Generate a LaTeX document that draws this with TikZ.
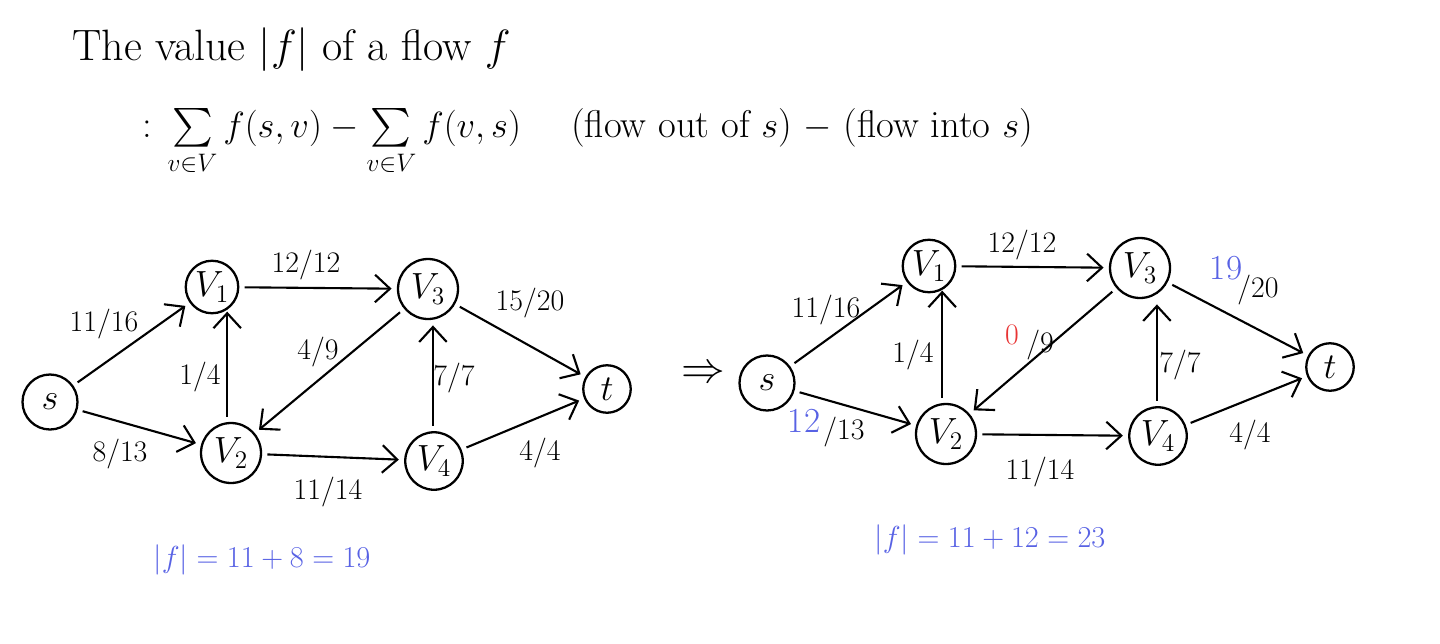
\documentclass[tikz,border=0pt]{standalone}
\usepackage{amsmath,amssymb}
\usepackage{xcolor}
\usetikzlibrary{arrows.meta, positioning}
\definecolor{penblue}{RGB}{88,98,228}
\definecolor{penred}{RGB}{232,52,52}

\begin{document}
\begin{tikzpicture}[x=0.02cm, y=-0.02cm, line join=round,
    vertex/.style={draw, line width=1.3pt, circle, minimum size=1.1cm, inner sep=0pt, font=\fontsize{20}{24}\selectfont},
    flow/.style={-{Straight Barb[length=3mm, width=5.5mm]}, line width=1.2pt, shorten >=3pt, shorten <=3pt},
    flowlabel/.style={font=\fontsize{17}{20}\selectfont, inner sep=1pt},
    pen/.style={font=\fontsize{22}{26}\selectfont, inner sep=0pt}]
    \useasboundingbox (0,0) rectangle (1440,643);
    % Definition
    \node[pen, font=\fontsize{25}{30}\selectfont, anchor=west] (title) at (72,50) {The value $|f|$ of a flow $f$};
    \node[pen, anchor=west] (def) at (142,142) {: $\sum\limits_{v\in V} f(s,v) - \sum\limits_{v\in V} f(v,s)$\quad\ (flow out of $s$) $-$ (flow into $s$)};
    % Netz vorher
    \node[vertex] (s) at (50,402) {$s$};
    \node[vertex, minimum size=1.05cm] (v1) at (212,287) {$V_1$};
    \node[vertex, minimum size=1.2cm] (v2) at (231,453) {$V_2$};
    \node[vertex, minimum size=1.2cm] (v3) at (428,289) {$V_3$};
    \node[vertex, minimum size=1.15cm] (v4) at (434,461) {$V_4$};
    \node[vertex, minimum size=0.95cm] (t) at (607,389) {$t$};
    \draw[flow] (s) -- (v1);
    \draw[flow] (s) -- (v2);
    \draw[flow] (v1) -- (v3);
    \draw[flow] (v2.97) -- (v2.97 |- v1.south east);
    \draw[flow] (v3) -- (v2);
    \draw[flow] (v2) -- (v4);
    \draw[flow] (v4.92) -- (v4.92 |- v3.south);
    \draw[flow] (v3) -- (t);
    \draw[flow] (v4) -- (t);
    \node[flowlabel] (l-sv1) at (104,324) {11/16};
    \node[flowlabel] (l-sv2) at (120,454) {8/13};
    \node[flowlabel] (l-v1v3) at (306,265) {12/12};
    \node[flowlabel] (l-v2v1) at (200,377) {1/4};
    \node[flowlabel] (l-v3v2) at (318,352) {4/9};
    \node[flowlabel] (l-v3t) at (530,303) {15/20};
    \node[flowlabel] (l-v4v3) at (454,378) {7/7};
    \node[flowlabel] (l-v2v4) at (328,492) {11/14};
    \node[flowlabel] (l-v4t) at (540,453) {4/4};
    \node[pen, font=\fontsize{19}{23}\selectfont, penblue] (val1) at (262,560) {$|f| = 11+8 = 19$};
    % Folgerung
    \node[pen, font=\fontsize{32}{36}\selectfont] (impl) at (703,374) {$\Rightarrow$};
    % Netz nachher
    \node[vertex] (sb) at (767,383) {$s$};
    \node[vertex, minimum size=1.05cm] (v1b) at (929,266) {$V_1$};
    \node[vertex, minimum size=1.2cm] (v2b) at (946,434) {$V_2$};
    \node[vertex, minimum size=1.2cm] (v3b) at (1140,268) {$V_3$};
    \node[vertex, minimum size=1.15cm] (v4b) at (1158,436) {$V_4$};
    \node[vertex, minimum size=0.95cm] (tb) at (1330,367) {$t$};
    \draw[flow] (sb) -- (v1b);
    \draw[flow] (sb) -- (v2b);
    \draw[flow] (v1b) -- (v3b);
    \draw[flow] (v2b.97) -- (v2b.97 |- v1b.south east);
    \draw[flow] (v3b) -- (v2b);
    \draw[flow] (v2b) -- (v4b);
    \draw[flow] (v4b.92) -- (v4b.92 |- v3b.south);
    \draw[flow] (v3b) -- (tb);
    \draw[flow] (v4b) -- (tb);
    \node[flowlabel] (r-sv1) at (826,310) {11/16};
    \node[flowlabel, font=\fontsize{20}{24}\selectfont, penblue] (r-sv2a) at (804,421) {12};
    \node[flowlabel] (r-sv2b) at (844,432) {/13};
    \node[flowlabel] (r-v1v3) at (1022,245) {12/12};
    \node[flowlabel] (r-v2v1) at (913,355) {1/4};
    \node[flowlabel, penred] (r-v3v2a) at (1012,335) {0};
    \node[flowlabel] (r-v3v2b) at (1040,345) {/9};
    \node[flowlabel, font=\fontsize{20}{24}\selectfont, penblue] (r-v3ta) at (1226,268) {19};
    \node[flowlabel] (r-v3tb) at (1258,290) {/20};
    \node[flowlabel] (r-v4v3) at (1180,365) {7/7};
    \node[flowlabel] (r-v2v4) at (1040,472) {11/14};
    \node[flowlabel] (r-v4t) at (1250,435) {4/4};
    \node[pen, font=\fontsize{19}{23}\selectfont, penblue] (val2) at (990,540) {$|f| = 11+12 = 23$};
\end{tikzpicture}
\end{document}
